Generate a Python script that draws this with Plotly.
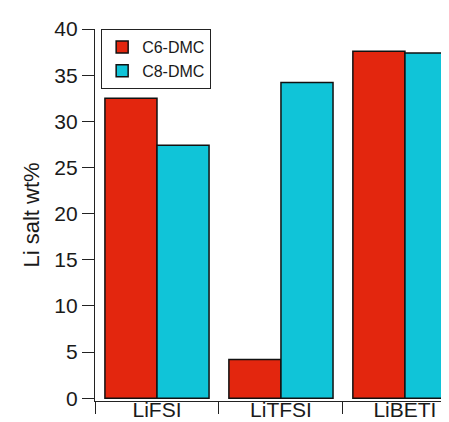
import plotly.graph_objects as go

categories = ["LiFSI", "LiTFSI", "LiBETI"]
c6_dmc = [32.5, 4.2, 37.6]
c8_dmc = [27.4, 34.2, 37.4]
series_names = ["C6-DMC", "C8-DMC"]
y_ticks = [0, 5, 10, 15, 20, 25, 30, 35, 40]

fig = go.Figure()
fig.add_trace(go.Bar(x=categories, y=c6_dmc, name=series_names[0],
                     marker=dict(color="#E3260E", line=dict(color="#111111", width=1.5))))
fig.add_trace(go.Bar(x=categories, y=c8_dmc, name=series_names[1],
                     marker=dict(color="#10C4D8", line=dict(color="#111111", width=1.5))))

fig.update_layout(
    width=449, height=422,
    margin=dict(l=87, r=0, t=21, b=29),
    paper_bgcolor="white", plot_bgcolor="white",
    barmode="group", bargap=0.16, bargroupgap=0,
    font=dict(family="Liberation Sans, Arial, sans-serif", color="#1a1a1a", size=20),
    showlegend=True,
    legend=dict(x=0.017, y=1, xanchor="left", yanchor="top",
                bordercolor="#222222", borderwidth=1,
                font=dict(size=16), bgcolor="white",
                tracegroupgap=0, itemwidth=30),
    xaxis=dict(type="category", range=[-0.5, 2.42], tickson="boundaries",
               ticks="outside", ticklen=12, tickwidth=1.3, tickcolor="#222222",
               showline=True, linecolor="#222222", linewidth=1.3,
               showgrid=False, zeroline=False, tickfont=dict(size=21),
               ticklabelstandoff=-10),
    yaxis=dict(range=[-0.3, 40], tickvals=y_ticks,
               ticks="outside", ticklen=12, tickwidth=1.3, tickcolor="#222222",
               showline=True, linecolor="#222222", linewidth=1.3,
               showgrid=False, zeroline=False, tickfont=dict(size=21),
               title=dict(text="Li salt wt%", font=dict(size=22), standoff=8)),
)

fig.write_html("out.html")
